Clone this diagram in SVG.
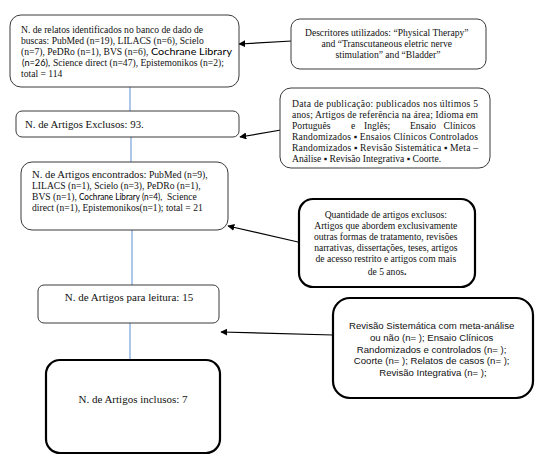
<svg xmlns="http://www.w3.org/2000/svg" width="546" height="463" viewBox="0 0 546 463">
<defs>
<style>
.thin{fill:#fff;stroke:#3a3a3a;stroke-width:1}
.thick{fill:#fff;stroke:#000;stroke-width:2.2}
.s{font-family:"Liberation Serif","Times New Roman",serif;fill:#111}
.a{font-family:"Liberation Sans",Arial,sans-serif;fill:#111}
.c{font-family:Lato,"Noto Sans",sans-serif;fill:#000}
.blue{stroke:#5b8fd0;stroke-width:1;fill:none}
.arr{stroke:#000;stroke-width:1.2;fill:none;marker-end:url(#ah)}
</style>
<marker id="ah" viewBox="0 0 10 10" refX="9" refY="5" markerWidth="7" markerHeight="7" orient="auto" markerUnits="userSpaceOnUse">
<path d="M0,0 L10,5 L0,10 z" fill="#000"/>
</marker>
</defs>
<rect width="546" height="463" fill="#fff"/>

<g id="connectors">
<line class="blue" x1="130" y1="87" x2="130" y2="111"/>
<line class="blue" x1="131" y1="137" x2="131" y2="162"/>
<line class="blue" x1="132" y1="230" x2="132" y2="285"/>
<line class="blue" x1="130" y1="323" x2="130" y2="360"/>
<line class="arr" x1="292" y1="41" x2="239" y2="44"/>
<line class="arr" x1="281" y1="130" x2="240" y2="137"/>
<line class="arr" x1="298" y1="242" x2="228" y2="226"/>
<line class="arr" x1="333" y1="335" x2="221" y2="332"/>
</g>

<g id="n1">
<rect class="thin" x="10" y="15" width="229" height="72" rx="11"/>
<text class="s" font-size="9.6">
<tspan x="21" y="33">N. de relatos identificados no banco de dado de</tspan>
<tspan x="21" y="44">buscas: PubMed (n=19), LILACS (n=6), Scielo</tspan>
<tspan x="21" y="55">(n=7), PeDRo (n=1), BVS (n=6),</tspan><tspan class="c" font-size="10" x="151" y="55" textLength="81" lengthAdjust="spacingAndGlyphs">Cochrane Library</tspan>
<tspan class="c" font-size="10" x="22" y="66" textLength="28" lengthAdjust="spacingAndGlyphs">(n=26),</tspan><tspan x="53" y="66">Science direct (n=47), Epistemonikos (n=2);</tspan>
<tspan x="21" y="77">total = 114</tspan>
</text>
</g>

<g id="n2">
<rect class="thin" x="16" y="111" width="223" height="26" rx="6"/>
<text class="s" font-size="10.8" x="25" y="128">N. de Artigos Exclusos: 93.</text>
</g>

<g id="n3">
<rect class="thin" x="21" y="162" width="207" height="68" rx="11"/>
<text class="s" font-size="9.6">
<tspan x="32" y="178"><tspan font-size="10.7">N. de Artigos encontrados:</tspan> PubMed (n=9),</tspan>
<tspan x="32" y="189">LILACS (n=1), Scielo (n=3), PeDRo (n=1),</tspan>
<tspan x="32" y="200">BVS (n=1),</tspan><tspan class="c" font-size="8.6" x="79" y="200" textLength="83" lengthAdjust="spacingAndGlyphs">Cochrane Library (n=4),</tspan><tspan x="167" y="200">Science</tspan>
<tspan x="32" y="211">direct (n=1), Epistemonikos(n=1); total = 21</tspan>
</text>
</g>

<g id="n4">
<rect class="thin" x="38" y="285" width="181" height="38" rx="6"/>
<text class="s" font-size="11" x="129" y="301" text-anchor="middle">N. de Artigos para leitura: 15</text>
</g>

<g id="n5">
<rect class="thick" x="46" y="360" width="174" height="93" rx="14"/>
<text class="s" font-size="11" x="133" y="403" text-anchor="middle">N. de Artigos inclusos: 7</text>
</g>

<g id="n6">
<rect class="thin" x="291" y="19" width="195" height="50" rx="9"/>
<text class="s" font-size="9.6" text-anchor="middle">
<tspan x="388" y="36">Descritores utilizados: “Physical Therapy”</tspan>
<tspan x="388" y="47">and “Transcutaneous eletric nerve</tspan>
<tspan x="388" y="58">stimulation” and “Bladder”</tspan>
</text>
</g>

<g id="n7">
<rect class="thin" x="280" y="88" width="210" height="80" rx="11"/>
<text class="s" font-size="9.6">
<tspan x="292" y="107" textLength="186" lengthAdjust="spacing">Data de publicação: publicados nos últimos 5</tspan>
<tspan x="292" y="118" textLength="186" lengthAdjust="spacing">anos; Artigos de referência na área; Idioma em</tspan>
<tspan x="292" y="129">Português</tspan><tspan x="351" y="129">e</tspan><tspan x="364" y="129">Inglês;</tspan><tspan x="410" y="129">Ensaio</tspan><tspan x="478" y="129" text-anchor="end">Clínicos</tspan>
<tspan x="292" y="140" textLength="186" lengthAdjust="spacing">Randomizados ▪ Ensaios Clínicos Controlados</tspan>
<tspan x="292" y="151" textLength="186" lengthAdjust="spacing">Randomizados ▪ Revisão Sistemática ▪ Meta –</tspan>
<tspan x="292" y="162">Análise ▪ Revisão Integrativa ▪ Coorte.</tspan>
</text>
</g>

<g id="n8">
<rect class="thick" x="299" y="199" width="176" height="88" rx="14"/>
<text class="s" font-size="9.6" text-anchor="middle">
<tspan x="387" y="218">Quantidade de artigos exclusos:</tspan>
<tspan x="387" y="229">Artigos que abordem exclusivamente</tspan>
<tspan x="387" y="240">outras formas de tratamento, revisões</tspan>
<tspan x="387" y="251">narrativas, dissertações, teses, artigos</tspan>
<tspan x="387" y="262">de acesso restrito e artigos com mais</tspan>
<tspan x="387" y="275">de 5 anos<tspan font-weight="bold">.</tspan></tspan>
</text>
</g>

<g id="n9">
<rect class="thick" x="333" y="298" width="200" height="100" rx="17"/>
<text class="a" font-size="9.6" text-anchor="middle">
<tspan x="433" y="329">Revisão Sistemática com meta-análise</tspan>
<tspan x="433" y="341">ou não (n= ); Ensaio Clínicos</tspan>
<tspan x="433" y="353">Randomizados e controlados (n= );</tspan>
<tspan x="433" y="364">Coorte (n= ); Relatos de casos (n= );</tspan>
<tspan x="433" y="376">Revisão Integrativa (n= );</tspan>
</text>
</g>
</svg>
